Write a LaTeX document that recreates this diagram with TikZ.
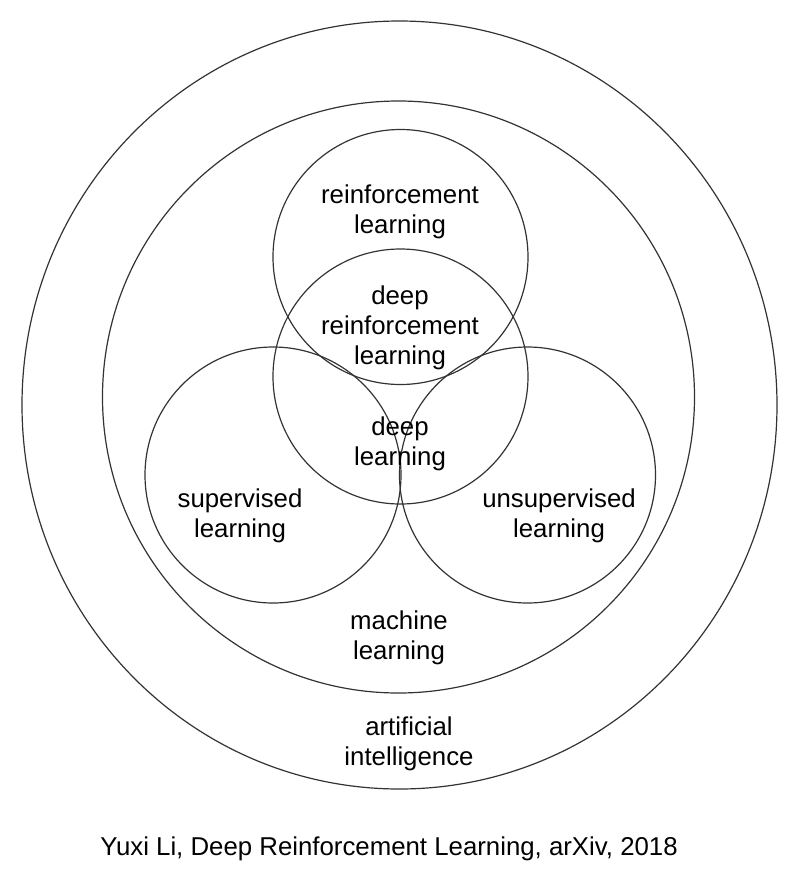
\documentclass[tikz,border=0pt]{standalone}
\usepackage{fontspec}
\setmainfont{Liberation Sans}
\usepackage{tikz}

\tikzset{
  venn/.style={line width=1.2pt,draw=black!80},
  lbl/.style={align=center,inner sep=0pt,font=\fontsize{25.8}{30}\selectfont},
}

\begin{document}
\begin{tikzpicture}[x=1pt,y=-1pt,line join=round]
      \useasboundingbox (0,0) rectangle (800,879);
      % nested fields
      \draw[venn] (399.5,405) ellipse (377.5 and 384);
      \draw[venn] (398.5,397) circle (296);
      % the four subfields
      \draw[venn] (400.5,257) circle (127.5);
      \draw[venn] (400.5,376.5) circle (127.5);
      \draw[venn] (273,475) circle (128);
      \draw[venn] (527.5,475) circle (128);
      % labels
      \node[lbl] (rl)    at (400,211.5) {reinforcement\\learning};
      \node[lbl] (drl)   at (400,327.5) {deep\\reinforcement\\learning};
      \node[lbl] (dl)    at (400,443.5) {deep\\learning};
      \node[lbl] (sl)    at (240,515.5) {supervised\\learning};
      \node[lbl] (ul)    at (559,515.5) {unsupervised\\learning};
      \node[lbl] (ml)    at (399,638) {machine\\learning};
      \node[lbl] (ai)    at (409,743.5) {artificial\\intelligence};
      \node[lbl] (cite)  at (389,848.5) {Yuxi Li, Deep Reinforcement Learning, arXiv, 2018};
\end{tikzpicture}
\end{document}
